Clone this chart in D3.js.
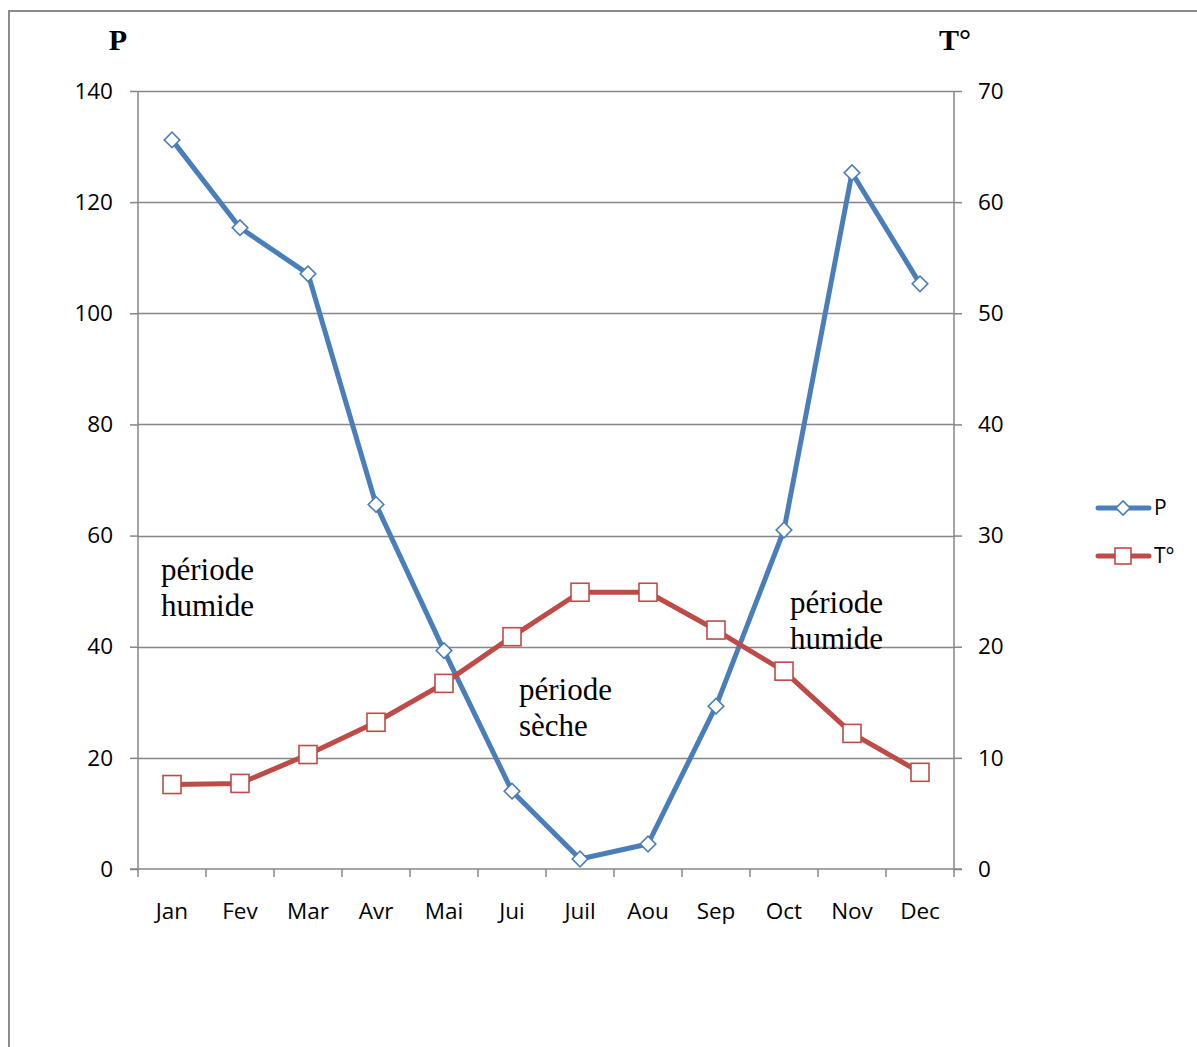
<!DOCTYPE html>
<html>
<head>
<meta charset="utf-8">
<script src="https://cdn.jsdelivr.net/npm/d3@7"></script>
<style>
  html, body { margin: 0; padding: 0; background: #fff; }
  svg { display: block; }
</style>
</head>
<body>
<script>
// Monthly climate data: precipitation (P, left axis) and temperature (T°, right axis)
const months = ["Jan", "Fev", "Mar", "Avr", "Mai", "Jui", "Juil", "Aou", "Sep", "Oct", "Nov", "Dec"];
const precipitation = [131.2, 115.4, 107.1, 65.6, 39.3, 14.0, 1.8, 4.5, 29.3, 61.0, 125.3, 105.3];
const temperature = [7.6, 7.7, 10.3, 13.2, 16.7, 20.9, 24.9, 24.9, 21.5, 17.8, 12.2, 8.7];
const leftTicks = [0, 20, 40, 60, 80, 100, 120, 140];
const rightTicks = [0, 10, 20, 30, 40, 50, 60, 70];
const seriesNames = ["P", "T°"];

const W = 1197, H = 1047;
const margin = { left: 138, right: 1197 - 954, top: 91, bottom: 1047 - 869 };
const plotW = W - margin.left - margin.right;
const plotH = H - margin.top - margin.bottom;

const blue = "#4A7EBB", red = "#BE4B48", axisGrey = "#868686";
const sansFont = "'Open Sans', 'Liberation Sans', sans-serif";
const serifFont = "'Liberation Serif', 'DejaVu Serif', serif";
const lineW = 5;

const svg = d3.select("body").append("svg").attr("width", W).attr("height", H);

// outer chart frame
svg.append("rect")
  .attr("x", 9).attr("y", 11)
  .attr("width", W + 20).attr("height", H + 20)
  .attr("fill", "none").attr("stroke", "#8c8c8c").attr("stroke-width", 2);

const g = svg.append("g").attr("transform", `translate(${margin.left},${margin.top})`);

const x = d3.scaleBand().domain(months).range([0, plotW]);
const yL = d3.scaleLinear().domain([0, 140]).range([plotH, 0]);
const yR = d3.scaleLinear().domain([0, 70]).range([plotH, 0]);

// horizontal gridlines
g.append("g").selectAll("line").data(leftTicks.filter(d => d > 0)).join("line")
  .attr("x1", 0).attr("x2", plotW)
  .attr("y1", d => Math.round(yL(d)) + 0.5).attr("y2", d => Math.round(yL(d)) + 0.5)
  .attr("stroke", axisGrey).attr("stroke-width", 1.5);

// left axis
const axL = g.append("g").call(d3.axisLeft(yL).tickValues(leftTicks).tickSize(8).tickPadding(17));
// right axis
const axR = g.append("g").attr("transform", `translate(${plotW},0)`)
  .call(d3.axisRight(yR).tickValues(rightTicks).tickSize(8).tickPadding(16));
// bottom axis: ticks at category boundaries
const axB = g.append("g").attr("transform", `translate(0,${plotH})`)
  .call(d3.axisBottom(x).tickSize(0).tickPadding(34));
axB.append("g").selectAll("line").data(d3.range(months.length + 1)).join("line")
  .attr("x1", i => i * x.step()).attr("x2", i => i * x.step())
  .attr("y1", 0).attr("y2", 8)
  .attr("stroke", axisGrey).attr("stroke-width", 1.5);

[axL, axR, axB].forEach(a => {
  a.select(".domain").attr("stroke", axisGrey).attr("stroke-width", 1.5);
  a.selectAll(".tick line").attr("stroke", axisGrey).attr("stroke-width", 1.5);
  a.selectAll("text").attr("font-family", sansFont).attr("font-size", 22.5).attr("fill", "#000");
});
axL.select(".domain").attr("d", `M0,${plotH}V0`);
axR.select(".domain").attr("d", `M0,${plotH}V0`);
axB.select(".domain").attr("d", `M-8,0H${plotW + 8}`);

// axis titles
svg.append("text").attr("x", 118).attr("y", 50).attr("text-anchor", "middle")
  .attr("font-family", serifFont).attr("font-weight", "bold").attr("font-size", 30).text("P");
svg.append("text").attr("x", 955).attr("y", 50).attr("text-anchor", "middle")
  .attr("font-family", serifFont).attr("font-weight", "bold").attr("font-size", 30).text("T°");

const cx = d => x(d) + x.bandwidth() / 2;

// precipitation line + diamond markers
g.append("path")
  .datum(precipitation)
  .attr("fill", "none").attr("stroke", blue).attr("stroke-width", lineW)
  .attr("stroke-linejoin", "round")
  .attr("d", d3.line().x((d, i) => cx(months[i])).y(d => yL(d)));
g.append("g").selectAll("path").data(precipitation).join("path")
  .attr("transform", (d, i) => `translate(${cx(months[i])},${yL(d)}) rotate(45)`)
  .attr("d", "M-5.5,-5.5H5.5V5.5H-5.5Z")
  .attr("fill", "#fff").attr("stroke", blue).attr("stroke-width", 1.6);

// temperature line + square markers
g.append("path")
  .datum(temperature)
  .attr("fill", "none").attr("stroke", red).attr("stroke-width", lineW)
  .attr("stroke-linejoin", "round")
  .attr("d", d3.line().x((d, i) => cx(months[i])).y(d => yR(d)));
g.append("g").selectAll("rect").data(temperature).join("rect")
  .attr("x", (d, i) => cx(months[i]) - 9).attr("y", d => yR(d) - 9)
  .attr("width", 18).attr("height", 18)
  .attr("fill", "#fff").attr("stroke", red).attr("stroke-width", 1.6);

// period annotations
const notes = [
  { x: 161, y: 580, lines: ["période", "humide"] },
  { x: 519, y: 700, lines: ["période", "sèche"] },
  { x: 790, y: 613, lines: ["période", "humide"] }
];
notes.forEach(n => {
  const t = svg.append("text").attr("font-family", serifFont).attr("font-size", 31).attr("fill", "#000");
  n.lines.forEach((l, i) => t.append("tspan").attr("x", n.x).attr("y", n.y + i * 36).text(l));
});

// legend
const legend = svg.append("g");
const legendItems = [
  { name: seriesNames[0], color: blue, marker: "diamond", y: 508 },
  { name: seriesNames[1], color: red, marker: "square", y: 556 }
];
legendItems.forEach(it => {
  legend.append("line").attr("x1", 1098).attr("x2", 1149).attr("y1", it.y).attr("y2", it.y)
    .attr("stroke", it.color).attr("stroke-width", lineW).attr("stroke-linecap", "round");
  if (it.marker === "diamond") {
    legend.append("path").attr("transform", `translate(1123,${it.y}) rotate(45)`)
      .attr("d", "M-5,-5H5V5H-5Z").attr("fill", "#fff").attr("stroke", it.color).attr("stroke-width", 1.6);
  } else {
    legend.append("rect").attr("x", 1115).attr("y", it.y - 8).attr("width", 16).attr("height", 16)
      .attr("fill", "#fff").attr("stroke", it.color).attr("stroke-width", 1.6);
  }
  legend.append("text").attr("x", 1154).attr("y", it.y).attr("dy", "0.35em")
    .attr("font-family", sansFont).attr("font-size", 21).attr("fill", "#000").text(it.name);
});
</script>
</body>
</html>
